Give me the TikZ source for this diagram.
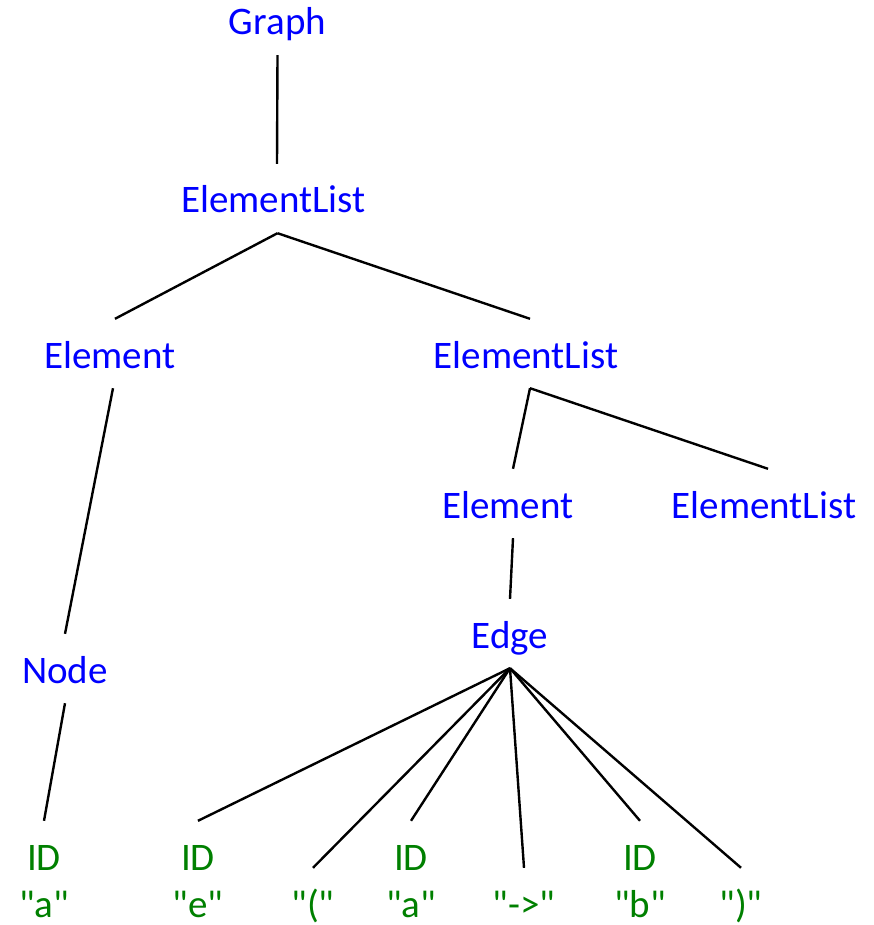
\documentclass[tikz,border=0pt]{standalone}
\usepackage{fontspec}
\setmainfont{Carlito}[Ligatures=TeXOff]
\definecolor{ntblue}{RGB}{0,0,255}
\definecolor{tgreen}{RGB}{0,128,0}
\tikzset{
  nt/.style={text=ntblue, font=\fontsize{39}{40}\selectfont, inner xsep=0pt, inner ysep=15pt, text height=34pt, text depth=5pt, anchor=base},
  term/.style={nt, text=tgreen},
  val/.style={text=tgreen, font=\fontsize{39}{40}\selectfont, inner sep=0pt, text height=26pt, text depth=9pt, anchor=base},
  branch/.style={draw=black, line width=2.4pt}
}
\begin{document}
\begin{tikzpicture}[x=1pt,y=-1pt]
\useasboundingbox (0,0) rectangle (873,925);
% nonterminals (placed at their baselines)
\node[nt] (graph) at (277.5,35) {Graph};
\node[nt] (el1) at (273.5,213) {ElementList};
\node[nt] (elemL) at (110,368) {Element};
\node[nt] (el2) at (526,368) {ElementList};
\node[nt] (elem2) at (508,518) {Element};
\node[nt] (el3) at (764,518) {ElementList};
\node[nt] (node) at (65,683) {Node};
\node[nt] (edge) at (510,648) {Edge};
% leaves
\node[term] (idA) at (44,870) {ID};
\node[val] (qa1) at (44,917) {"a"};
\node[term] (idE) at (198,870) {ID};
\node[val] (qe) at (198,917) {"e"};
\node[term] (lp) at (313,917) {"("};
\node[term] (idA2) at (411,870) {ID};
\node[val] (qa2) at (411,917) {"a"};
\node[term] (arr) at (524,917) {"->"};
\node[term] (idB) at (640,870) {ID};
\node[val] (qb) at (640,917) {"b"};
\node[term] (rp) at (741,917) {")"};
% connectors
\draw[branch] (graph.south) -- ([xshift=3.5pt]el1.north);
\draw[branch] ([xshift=4pt]el1.south) -- ([xshift=5pt]elemL.north);
\draw[branch] ([xshift=4pt]el1.south) -- ([xshift=4pt]el2.north);
\draw[branch] ([xshift=3pt]elemL.south) -- (node.north);
\draw[branch] (node.south) -- (idA.north);
\draw[branch] ([xshift=4pt]el2.south) -- ([xshift=5pt]elem2.north);
\draw[branch] ([xshift=4pt]el2.south) -- ([xshift=4pt]el3.north);
\draw[branch] ([xshift=5pt]elem2.south) -- (edge.north);
\foreach \t in {idE,lp,idA2,arr,idB,rp}
  \draw[branch] (edge.south) -- (\t.north);
\end{tikzpicture}
\end{document}
